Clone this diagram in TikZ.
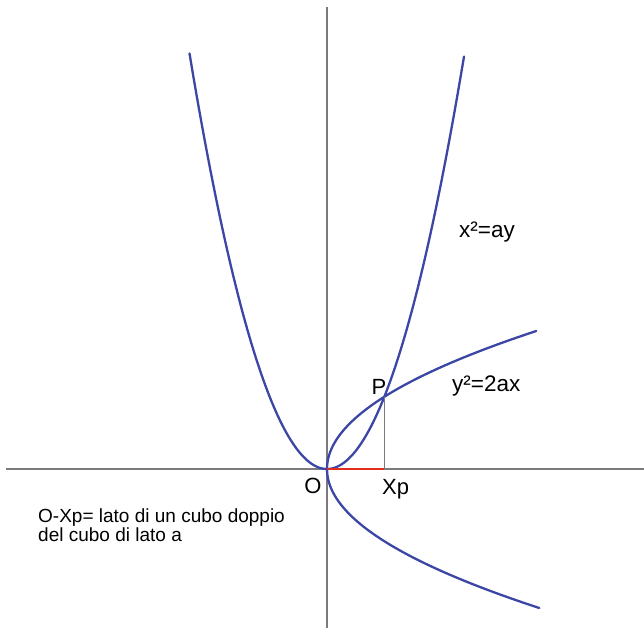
\documentclass[tikz,border=0pt]{standalone}
\usepackage{fontspec}
\setmainfont{Liberation Sans}
\definecolor{curveblue}{RGB}{60,70,165}
\definecolor{axisgray}{RGB}{125,122,125}
\definecolor{segred}{RGB}{225,45,30}
\begin{document}
\begin{tikzpicture}[x=1pt,y=-1pt,
  axis/.style={draw=axisgray,line width=1.4pt},
  curve/.style={draw=curveblue,line width=2.3pt},
  lbl/.style={inner sep=0pt,font=\fontsize{22}{26}\selectfont},
  eqlbl/.style={inner sep=0pt,font=\fontsize{22.5}{26}\selectfont},
  note/.style={inner sep=0pt,align=left,font=\fontsize{19}{18.5}\selectfont}]
\useasboundingbox[fill=white] (0,0) rectangle (644,628);
\def\A{45.5}
\coordinate (O) at (327,469);
\coordinate (P) at ({327+\A*1.259921},{469-\A*1.587401});
\coordinate (Xp) at ({327+\A*1.259921},469);
\coordinate (axL) at (6,469);
\coordinate (axR) at (644,469);
\coordinate (axT) at (327,7);
\coordinate (axB) at (327,628);
\draw[axis] (axL) -- (axR);
\draw[axis] (axT) -- (axB);
% x^2 = a y
\draw[curve,line cap=round] plot[domain=-13.75:13.7,samples=120,smooth] ({327+10*\x},{469-\x*\x*(100/\A)});
% y^2 = 2 a x
\draw[curve,line cap=round] plot[domain=-13.8:13.9,samples=120,smooth] ({327+\x*\x*(50/\A)},{469+10*\x});
\draw[draw=axisgray,line width=0.8pt] (P) -- (Xp);
\draw[draw=segred,line width=2.8pt] (O) -- (Xp);
\node[lbl,anchor=base] (lO) at (313,493) {O};
\node[lbl,anchor=base] (lP) at (379,394) {P};
\node[lbl,anchor=base west] (lXp) at (382,494) {Xp};
\node[eqlbl,anchor=base west] (e1) at (459,237) {x²=ay};
\node[eqlbl,anchor=base west] (e2) at (452,391) {y²=2ax};
\node[note,anchor=base west] (n1) at (38,541) {O-Xp= lato di un cubo doppio\\del cubo di lato a};
\end{tikzpicture}
\end{document}
